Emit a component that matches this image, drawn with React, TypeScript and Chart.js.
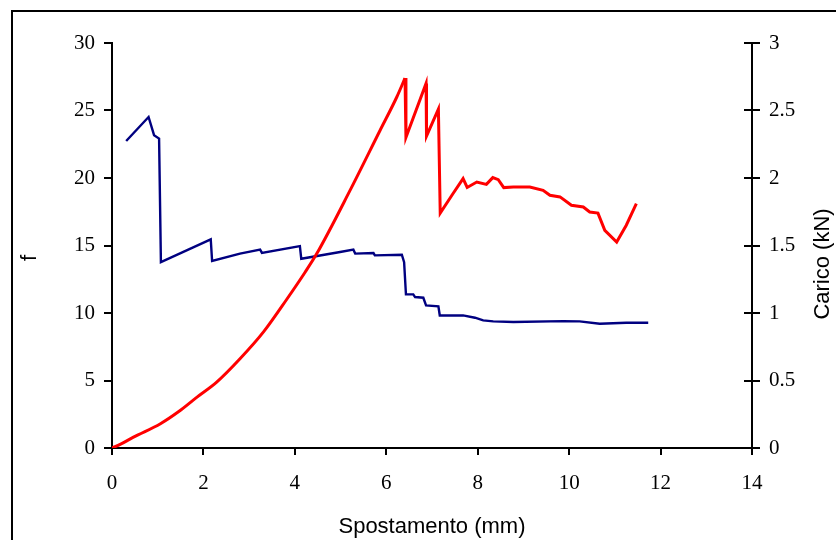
import React, { useEffect, useRef } from "react";
import { Chart, registerables } from "chart.js";

Chart.register(...registerables);

// Carico (kN) vs Spostamento (mm) — red curve, right axis
const caricoX = [0, 0.2, 0.47, 1.06, 1.46, 1.86, 2.29, 2.8, 3.31, 3.82, 4.22, 4.48, 5.21, 5.86, 6.23, 6.41, 6.43, 6.87, 6.88, 7.14, 7.18, 7.45, 7.68, 7.77, 7.98, 8.19, 8.33, 8.45, 8.57, 8.78, 9.14, 9.43, 9.58, 9.8, 10.05, 10.31, 10.45, 10.63, 10.78, 11.04, 11.25, 11.47];
const caricoY = [0, 0.03, 0.08, 0.18, 0.27, 0.377, 0.488, 0.661, 0.858, 1.1, 1.3, 1.44, 1.91, 2.35, 2.6, 2.74, 2.3, 2.7, 2.31, 2.51, 1.74, 1.88, 1.996, 1.93, 1.97, 1.953, 2.003, 1.988, 1.929, 1.933, 1.933, 1.909, 1.872, 1.86, 1.798, 1.785, 1.748, 1.74, 1.612, 1.526, 1.65, 1.81];
// index of the first peak: the smooth loading branch ends here
const caricoPeakIndex = 15;

// f vs Spostamento (mm) — blue curve, left axis
const fX = [0.31, 0.8, 0.92, 1.03, 1.07, 2.16, 2.19, 2.8, 3.24, 3.28, 4.11, 4.14, 4.99, 5.28, 5.32, 5.72, 5.75, 6.34, 6.39, 6.43, 6.59, 6.63, 6.81, 6.87, 7.14, 7.17, 7.68, 7.94, 8.12, 8.34, 8.78, 9.87, 10.23, 10.67, 11.25, 11.73];
const fY = [22.74, 24.52, 23.17, 22.92, 13.77, 15.46, 13.85, 14.4, 14.69, 14.45, 14.96, 14.02, 14.52, 14.69, 14.4, 14.44, 14.27, 14.32, 13.77, 11.38, 11.38, 11.18, 11.13, 10.56, 10.49, 9.82, 9.82, 9.65, 9.45, 9.38, 9.33, 9.4, 9.38, 9.2, 9.28, 9.28];

const xRange = [0, 14, 2];
const fRange = [0, 30, 5];
const caricoRange = [0, 3, 0.5];

const xTitle = "Spostamento (mm)";
const fTitle = "f";
const caricoTitle = "Carico (kN)";

const serif = "'Liberation Serif', 'Times New Roman', serif";
const sans = "'Liberation Sans', Arial, sans-serif";

export default function App() {
  const ref = useRef<HTMLCanvasElement | null>(null);

  useEffect(() => {
    if (!ref.current) return;

    const decor = {
      id: "decor",
      beforeDraw(chart: any) {
        const ctx = chart.ctx;
        ctx.save();
        ctx.fillStyle = "#fff";
        ctx.fillRect(0, 0, chart.width, chart.height);
        ctx.restore();
      },
      afterDraw(chart: any) {
        const ctx = chart.ctx;
        ctx.save();
        // outer frame
        ctx.strokeStyle = "#000";
        ctx.lineWidth = 2;
        ctx.strokeRect(12, 11, 1000, 700);
        // inner half of the crossing ticks on right axis
        const y1 = chart.scales.y1;
        ctx.beginPath();
        y1.ticks.forEach((t: any) => {
          const py = Math.round(y1.getPixelForValue(t.value));
          ctx.moveTo(y1.left - 8, py);
          ctx.lineTo(y1.left, py);
        });
        ctx.stroke();
        // axis titles (left and right, rotated reading upward)
        ctx.fillStyle = "#000";
        ctx.font = `22px ${sans}`;
        ctx.textAlign = "center";
        ctx.textBaseline = "middle";
        ctx.save();
        ctx.translate(30, 258);
        ctx.rotate(-Math.PI / 2);
        ctx.fillText(fTitle, 0, 0);
        ctx.restore();
        ctx.save();
        ctx.translate(823, 264);
        ctx.rotate(-Math.PI / 2);
        ctx.fillText(caricoTitle, 0, 0);
        ctx.restore();
        ctx.restore();
      },
    };

    const gridOpts = {
      display: true,
      drawOnChartArea: false,
      drawTicks: true,
      tickLength: 8,
      color: "#000",
      lineWidth: 2,
    };
    const borderOpts = { display: true, color: "#000", width: 2 };
    const plain = (v: any) => String(v);

    const caricoPts = caricoX.map((x, i) => ({ x, y: caricoY[i] }));
    const redStyle = {
      yAxisID: "y1",
      showLine: true,
      borderColor: "#FF0000",
      backgroundColor: "#FF0000",
      borderWidth: 3,
      pointRadius: 0,
      order: 0,
    };

    const chart = new Chart(ref.current, {
      type: "scatter",
      data: {
        datasets: [
          {
            ...redStyle,
            label: caricoTitle,
            data: caricoPts.slice(0, caricoPeakIndex + 1),
            cubicInterpolationMode: "monotone",
          },
          {
            ...redStyle,
            label: caricoTitle + " ",
            data: caricoPts.slice(caricoPeakIndex),
            tension: 0,
          },
          {
            label: fTitle,
            data: fX.map((x, i) => ({ x, y: fY[i] })),
            yAxisID: "y",
            showLine: true,
            borderColor: "#000080",
            backgroundColor: "#000080",
            borderWidth: 2.4,
            pointRadius: 0,
            tension: 0,
            order: 1,
          },
        ],
      },
      plugins: [decor],
      options: {
        responsive: false,
        animation: false,
        layout: { padding: { top: 43, left: 0, right: 0, bottom: 0 } },
        plugins: {
          legend: { display: false },
          tooltip: { enabled: false },
        },
        scales: {
          x: {
            type: "linear",
            min: xRange[0],
            max: xRange[1],
            ticks: { stepSize: xRange[2], color: "#000", font: { family: serif, size: 21 }, padding: 16, callback: plain },
            grid: { ...gridOpts, tickLength: 7 },
            border: borderOpts,
            title: { display: true, text: xTitle, color: "#000", font: { family: sans, size: 22 }, padding: { top: 0, bottom: 0 } },
            afterFit: (s: any) => {
              s.height = 92;
            },
          },
          y: {
            type: "linear",
            position: "left",
            min: fRange[0],
            max: fRange[1],
            ticks: { stepSize: fRange[2], color: "#000", font: { family: serif, size: 21 }, padding: 9, callback: plain },
            grid: gridOpts,
            border: borderOpts,
            title: { display: false, text: fTitle },
            afterFit: (s: any) => {
              s.width = 112;
            },
          },
          y1: {
            type: "linear",
            position: "right",
            min: caricoRange[0],
            max: caricoRange[1],
            ticks: { stepSize: caricoRange[2], color: "#000", font: { family: serif, size: 21 }, padding: 9, callback: plain },
            grid: gridOpts,
            border: borderOpts,
            title: { display: false, text: caricoTitle },
            afterFit: (s: any) => {
              s.width = 84;
            },
          },
        },
      },
    } as any);

    return () => chart.destroy();
  }, []);

  return (
    <div style={{ position: "absolute", left: 0, top: 0, width: 836, height: 540, overflow: "hidden", background: "#fff" }}>
      <canvas ref={ref} width={836} height={540} style={{ display: "block" }} />
    </div>
  );
}
